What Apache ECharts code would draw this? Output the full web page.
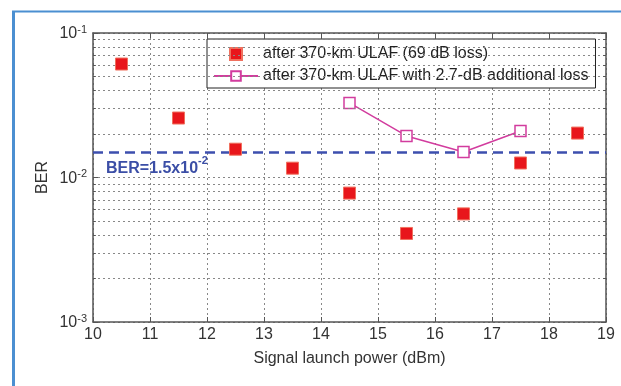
<!DOCTYPE html>
<html>
<head>
<meta charset="utf-8">
<script src="https://cdn.jsdelivr.net/npm/echarts@6/dist/echarts.min.js"></script>
<style>
html,body{margin:0;padding:0;background:#fff;}
#main{width:621px;height:386px;}
</style>
</head>
<body>
<div id="main"></div>
<script>
// launch power (dBm)
var power = [10.5, 11.5, 12.5, 13.5, 14.5, 15.5, 16.5, 17.5, 18.5];
var berUlaf = [0.061, 0.0258, 0.0157, 0.0116, 0.0078, 0.0041, 0.0056, 0.0126, 0.0203];
var powerLoss = [14.5, 15.5, 16.5, 17.5];
var berLoss = [0.0328, 0.0194, 0.0150, 0.0210];
var berLimit = 0.015;
// minor log grid lines
var minorGrid = [0.002, 0.003, 0.004, 0.005, 0.006, 0.007, 0.008, 0.009,
	0.02, 0.03, 0.04, 0.05, 0.06, 0.07, 0.08, 0.09];
var legendNames = ['after 370-km ULAF (69 dB loss)', 'after 370-km ULAF with 2.7-dB additional loss'];

var axisColor = '#555';
var txtColor = '#333';
var font = 'Liberation Sans, Arial, sans-serif';

function zip(a, b) {
	var out = [];
	for (var i = 0; i < a.length; i++) out.push([a[i], b[i]]);
	return out;
}

var gridLines = [];
for (var i = 0; i < minorGrid.length; i++) {
	gridLines.push({ yAxis: minorGrid[i] });
}
// minor ticks on left and right edge
var tickStyle = { type: 'solid', color: axisColor, width: 1 };
for (var i = 0; i < minorGrid.length; i++) {
	gridLines.push([{ coord: [10, minorGrid[i]], lineStyle: tickStyle }, { coord: [10.05, minorGrid[i]] }]);
	gridLines.push([{ coord: [18.95, minorGrid[i]], lineStyle: tickStyle }, { coord: [19, minorGrid[i]] }]);
}

var myChart = echarts.init(document.getElementById('main'));
var option = {
	backgroundColor: '#fff',
	animation: false,
	textStyle: { fontFamily: font },
	grid: { left: 93, top: 33, right: 15, bottom: 64, show: false },
	graphic: [
		{ type: 'line', shape: { x1: 13.5, y1: 11, x2: 13.5, y2: 386 }, style: { stroke: '#4b8fd1', lineWidth: 3 } },
		{ type: 'line', shape: { x1: 12, y1: 11.5, x2: 621, y2: 11.5 }, style: { stroke: '#4b8fd1', lineWidth: 2 } }
	],
	legend: {
		left: 207,
		top: 39,
		orient: 'vertical',
		backgroundColor: '#fff',
		borderColor: '#222',
		borderWidth: 1,
		borderRadius: 0,
		padding: [6, 7, 3, 6],
		itemGap: 4,
		itemWidth: 44,
		itemHeight: 12,
		textStyle: { fontSize: 16, color: '#222', fontFamily: font, lineHeight: 18 },
		data: [
			{ name: legendNames[0], icon: 'path://M0,0H10V10H0Z' },
			{ name: legendNames[1] }
		]
	},
	xAxis: [{
		type: 'value',
		min: 10,
		max: 19,
		interval: 1,
		name: 'Signal launch power (dBm)',
		nameLocation: 'middle',
		nameGap: 29,
		nameTextStyle: { fontSize: 16, color: txtColor },
		axisLine: { onZero: false, lineStyle: { color: axisColor, width: 1.5 } },
		axisTick: { inside: true, length: 5, lineStyle: { color: axisColor } },
		axisLabel: { fontSize: 16, color: txtColor, margin: 5 },
		splitLine: { lineStyle: { color: '#888', type: [2, 3], width: 1 } }
	}, {
		type: 'value',
		position: 'top',
		min: 10,
		max: 19,
		interval: 1,
		axisLine: { onZero: false, lineStyle: { color: axisColor, width: 1.5 } },
		axisTick: { inside: true, length: 5, lineStyle: { color: axisColor } },
		axisLabel: { show: false },
		splitLine: { show: false }
	}],
	yAxis: [{
		type: 'log',
		logBase: 10,
		min: 0.001,
		max: 0.1,
		interval: 1,
		name: 'BER',
		nameLocation: 'middle',
		nameGap: 42,
		nameMoveOverlap: false,
		nameTextStyle: { fontSize: 16, color: txtColor },
		axisLine: { lineStyle: { color: axisColor, width: 1.5 } },
		axisTick: { inside: true, length: 5, lineStyle: { color: axisColor } },
		axisLabel: {
			margin: 6,
			color: txtColor,
			formatter: function(v) {
				var e = Math.round(Math.log(v) / Math.LN10);
				return '{b|10}{s|' + e + '}';
			},
			rich: {
				b: { fontSize: 16, color: txtColor, lineHeight: 18, verticalAlign: 'bottom' },
				s: { fontSize: 11, color: txtColor, lineHeight: 18, verticalAlign: 'top' }
			}
		},
		splitLine: { lineStyle: { color: '#888', type: [2, 3], width: 1 } }
	}, {
		type: 'log',
		logBase: 10,
		min: 0.001,
		max: 0.1,
		interval: 1,
		position: 'right',
		axisLine: { lineStyle: { color: axisColor, width: 1.5 } },
		axisTick: { inside: true, length: 5, lineStyle: { color: axisColor } },
		axisLabel: { show: false },
		splitLine: { show: false }
	}],
	series: [{
		name: 'grid',
		type: 'line',
		data: [],
		z: 1,
		silent: true,
		markLine: {
			silent: true,
			symbol: 'none',
			precision: 6,
			label: { show: false },
			lineStyle: { color: '#888', type: [2, 3], width: 1 },
			data: gridLines
		}
	}, {
		name: legendNames[0],
		type: 'scatter',
		symbol: 'rect',
		symbolSize: 12,
		z: 5,
		itemStyle: { color: '#e8161b', borderColor: '#f0705e', borderWidth: 1, opacity: 1 },
		data: zip(power, berUlaf)
	}, {
		name: legendNames[1],
		type: 'line',
		symbol: 'rect',
		symbolSize: 11,
		z: 4,
		lineStyle: { color: '#d23c9e', width: 1.5 },
		itemStyle: { color: '#fff', borderColor: '#d23c9e', borderWidth: 1.5 },
		data: zip(powerLoss, berLoss),
		markLine: {
			silent: true,
			symbol: 'none',
			precision: 6,
			z: 3,
			lineStyle: { color: '#3d4fae', width: 2.5, type: [10, 6] },
			label: {
				position: 'insideStartBottom',
				distance: [13, 3],
				formatter: '{b|BER=1.5x10}{s|-2}',
				rich: {
					b: { fontSize: 16, fontWeight: 'bold', color: '#3b4ea6', lineHeight: 22, verticalAlign: 'bottom' },
					s: { fontSize: 11, fontWeight: 'bold', color: '#3b4ea6', lineHeight: 22, verticalAlign: 'top' }
				}
			},
			data: [{ yAxis: berLimit }]
		}
	}]
};
myChart.setOption(option);
</script>
</body>
</html>
